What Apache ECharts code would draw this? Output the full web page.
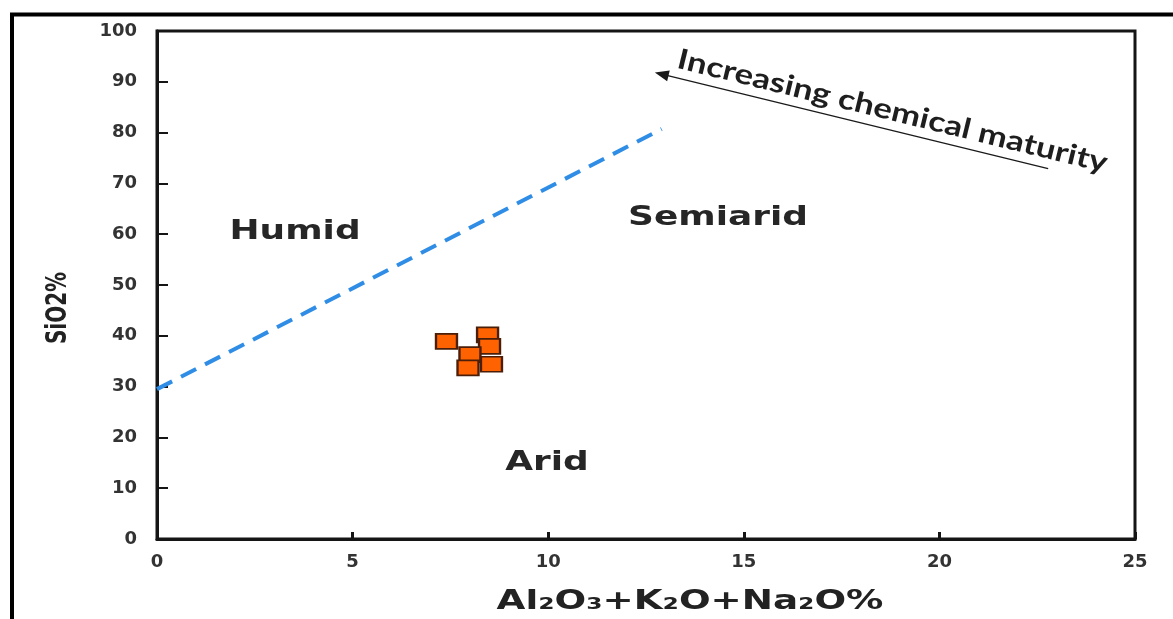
<!DOCTYPE html>
<html>
<head>
<meta charset="utf-8">
<script src="https://cdn.jsdelivr.net/npm/echarts@6/dist/echarts.min.js"></script>
<style>
  html, body { margin: 0; padding: 0; background: #fff; }
  #chart { width: 1173px; height: 619px; }
</style>
</head>
<body>
<div id="chart"></div>
<script>
// Samples: Al2O3+K2O+Na2O (%) vs SiO2 (%)
const sampleAlkAl = [7.4, 8.45, 8.5, 8.0, 7.95, 8.55];
const sampleSiO2  = [38.9, 40.2, 37.9, 36.3, 33.7, 34.4];

// Humid / semiarid boundary (dashed)
const boundaryX = [0, 12.9];
const boundaryY = [29.5, 80.7];

// Field names and their centres (data units)
const regionNames = ['Humid', 'Semiarid', 'Arid'];
const regionX = [3.53, 14.34, 9.97];
const regionY = [60.4, 63.2, 15.0];

// Maturity arrow: tail -> head (data units)
const arrowFrom = [22.78, 72.9];
const arrowTo = [12.9, 91.5];
const arrowText = 'Increasing chemical maturity';
const arrowTextPos = [18.8, 84.2];

const xTicks = [0, 5, 10, 15, 20, 25];
const yTicks = [0, 10, 20, 30, 40, 50, 60, 70, 80, 90, 100];
const xName = 'Al\u2082O\u2083+K\u2082O+Na\u2082O%';
const yName = 'SiO2%';

const chart = echarts.init(document.getElementById('chart'));

const axisFont = { fontFamily: 'DejaVu Sans', fontWeight: 'bold', fontSize: 18, color: '#333' };

chart.setOption({
  animation: false,
  backgroundColor: '#fff',
  grid: {
    left: 157, right: 38, top: 31, bottom: 80,
    show: true, borderColor: '#151515', borderWidth: 3, backgroundColor: 'transparent'
  },
  xAxis: {
    type: 'value', min: xTicks[0], max: xTicks[xTicks.length - 1], interval: 5,
    axisLine: { show: true, onZero: false, lineStyle: { color: '#151515', width: 3 } },
    axisTick: { show: true, inside: true, length: 7, lineStyle: { color: '#151515', width: 3 } },
    axisLabel: Object.assign({ margin: 14 }, axisFont),
    splitLine: { show: false }
  },
  yAxis: {
    type: 'value', min: yTicks[0], max: yTicks[yTicks.length - 1], interval: 10,
    axisLine: { show: true, onZero: false, lineStyle: { color: '#151515', width: 3 } },
    axisTick: { show: true, inside: true, length: 11, lineStyle: { color: '#151515', width: 2 } },
    axisLabel: Object.assign({ margin: 20 }, axisFont),
    splitLine: { show: false }
  },
  series: [
    {
      type: 'line',
      data: boundaryX.map((x, i) => [x, boundaryY[i]]),
      symbol: 'none',
      lineStyle: { color: '#2f8de6', width: 4, type: [17, 10] },
      z: 2
    },
    {
      type: 'scatter',
      data: sampleAlkAl.map((x, i) => [x, sampleSiO2[i]]),
      symbol: 'rect',
      symbolSize: [21, 15],
      itemStyle: { color: '#ff6200', borderColor: '#4a1e08', borderWidth: 2, opacity: 1 },
      z: 5
    },
    {
      type: 'line',
      data: [],
      markLine: {
        silent: true,
        symbol: ['none', 'triangle'],
        symbolSize: [11, 14],
        label: { show: false },
        lineStyle: { color: '#1a1a1a', width: 1.3, type: 'solid' },
        data: [[{ coord: arrowFrom }, { coord: arrowTo }]]
      }
    }
  ]
});

function px(x, y) { return chart.convertToPixel({ gridIndex: 0 }, [x, y]); }

const texts = [];
regionNames.forEach((name, i) => {
  const p = px(regionX[i], regionY[i]);
  texts.push({
    type: 'text', x: p[0], y: p[1], scaleX: 1.33, z: 10,
    style: { text: name, align: 'center', verticalAlign: 'middle',
      font: 'bold 27px "DejaVu Sans"', fill: '#262626' }
  });
});

const a0 = px(arrowFrom[0], arrowFrom[1]);
const a1 = px(arrowTo[0], arrowTo[1]);
const ang = Math.atan2(a0[1] - a1[1], a0[0] - a1[0]);
const tp = px(arrowTextPos[0], arrowTextPos[1]);
texts.push({
  type: 'text', x: tp[0], y: tp[1], rotation: -ang, scaleX: 1.24, z: 10,
  style: { text: arrowText, align: 'center', verticalAlign: 'middle',
    font: 'bold 28px Lato', fill: '#1e1e1e' }
});

texts.push({
  type: 'text', x: 690, y: 602, scaleX: 1.38, z: 10,
  style: { text: xName, align: 'center', verticalAlign: 'middle',
    font: 'bold 27px "DejaVu Sans"', fill: '#222' }
});
texts.push({
  type: 'text', x: 59, y: 308, rotation: Math.PI / 2, scaleY: 1.4, z: 10,
  style: { text: yName, align: 'center', verticalAlign: 'middle',
    font: 'bold 20px "DejaVu Sans"', fill: '#222' }
});

// outer frame (left and top edges)
texts.push({
  type: 'polyline', z: 10,
  shape: { points: [[12, 619], [12, 14.5], [1173, 14.5]] },
  style: { stroke: '#000', lineWidth: 4, fill: null }
});

chart.setOption({ graphic: texts });
</script>
</body>
</html>
